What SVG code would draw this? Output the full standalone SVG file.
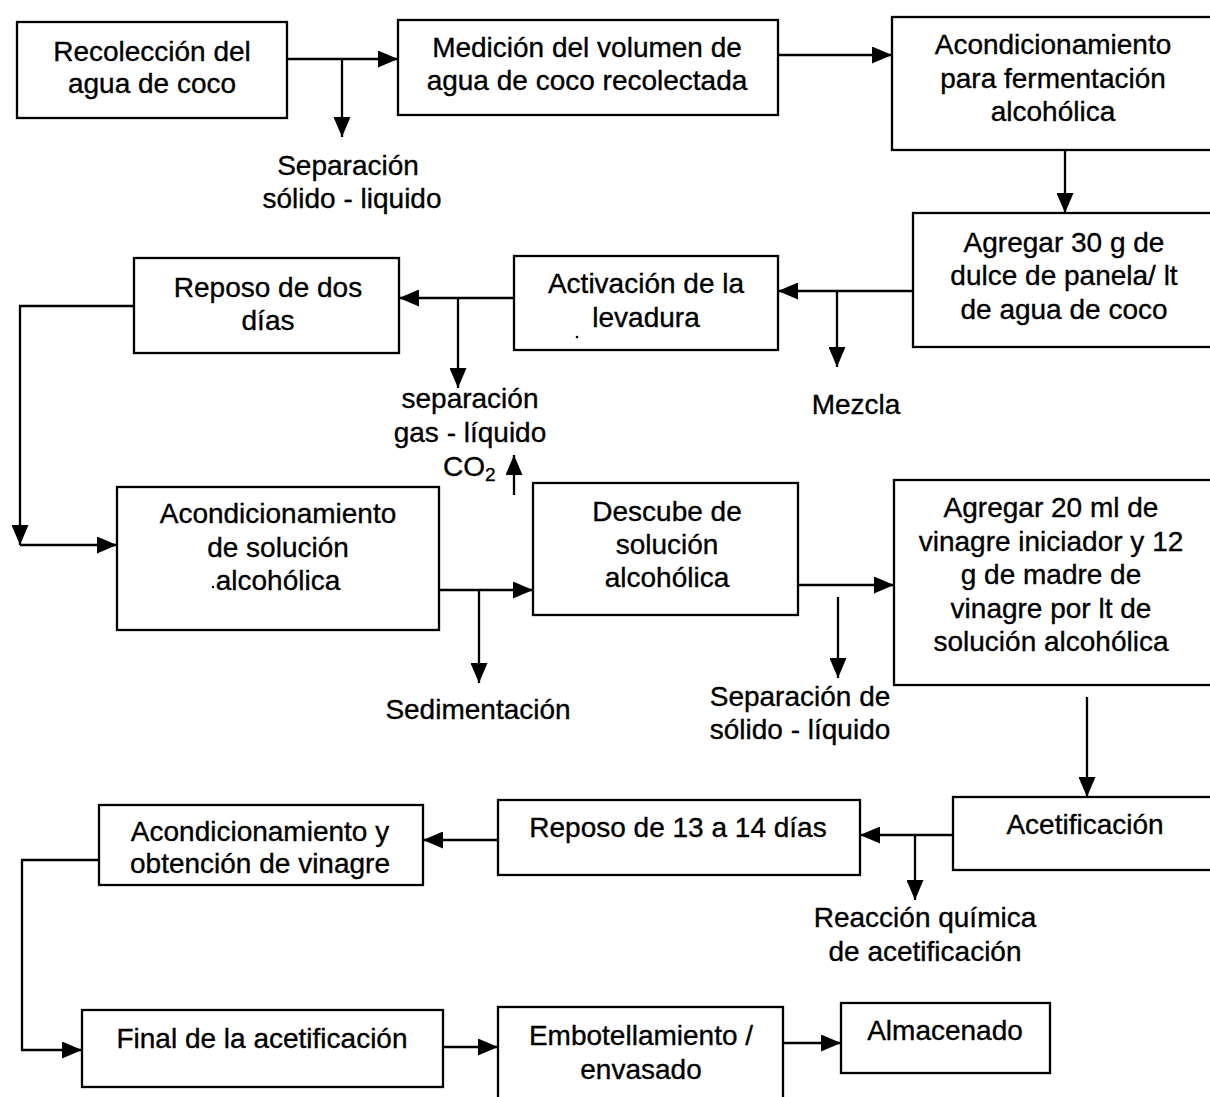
<svg xmlns="http://www.w3.org/2000/svg" width="1210" height="1097" viewBox="0 0 1210 1097">
  <style>
    .box { fill: #ffffff; stroke: #000000; stroke-width: 2.3; }
    .t { font-family: "Liberation Sans", Arial, sans-serif; font-size: 28px; fill: #000000; stroke: #000000; stroke-width: 0.35; text-anchor: middle; }
    .c { fill: none; stroke: #000000; stroke-width: 2.3; }
    .a { marker-end: url(#ah); }
  </style>
  <defs>
    <marker id="ah" viewBox="0 0 20 17" refX="20" refY="8.5" markerWidth="20" markerHeight="17" markerUnits="userSpaceOnUse" orient="auto">
      <path d="M0,0 L20,8.5 L0,17 z" fill="#000000"/>
    </marker>
  </defs>
  <rect width="1210" height="1097" fill="#ffffff"/>

  <!-- connectors -->
  <g id="connectors">
    <path class="c a" d="M287,59 H398"/>
    <path class="c a" d="M342,59 V137"/>
    <path class="c a" d="M778,55 H892"/>
    <path class="c a" d="M1065,150 V213"/>
    <path class="c a" d="M913,291 H778"/>
    <path class="c a" d="M837,291 V367"/>
    <path class="c a" d="M514,298 H399"/>
    <path class="c a" d="M458,298 V388"/>
    <path class="c a" d="M134,306 H20 V545"/>
    <path class="c a" d="M20,545 H117"/>
    <path class="c a" d="M439,590 H533"/>
    <path class="c a" d="M479,590 V683"/>
    <path class="c a" d="M514,495 V455"/>
    <path class="c a" d="M798,585 H894"/>
    <path class="c a" d="M838,597 V678"/>
    <path class="c a" d="M1087,697 V797"/>
    <path class="c a" d="M953,835 H860"/>
    <path class="c a" d="M915,835 V900"/>
    <path class="c a" d="M498,840 H423"/>
    <path class="c a" d="M99,860 H22 V1050 H82"/>
    <path class="c a" d="M443,1047 H498"/>
    <path class="c a" d="M783,1043 H841"/>
  </g>

  <!-- process steps -->
  <g id="recoleccion">
    <rect class="box" x="17" y="22" width="270" height="96"/>
    <text class="t" x="152" y="61">Recolección del</text>
    <text class="t" x="152" y="93">agua de coco</text>
  </g>
  <g id="medicion">
    <rect class="box" x="398" y="20" width="380" height="95"/>
    <text class="t" x="587" y="57">Medición del volumen de</text>
    <text class="t" x="587" y="90">agua de coco recolectada</text>
  </g>
  <g id="acond-fermentacion">
    <rect class="box" x="892" y="17" width="325" height="133"/>
    <text class="t" x="1053" y="54">Acondicionamiento</text>
    <text class="t" x="1053" y="88">para fermentación</text>
    <text class="t" x="1053" y="121">alcohólica</text>
  </g>
  <g id="agregar-panela">
    <rect class="box" x="913" y="213" width="305" height="134"/>
    <text class="t" x="1064" y="252">Agregar 30 g de</text>
    <text class="t" x="1064" y="285">dulce de panela/ lt</text>
    <text class="t" x="1064" y="319">de agua de coco</text>
  </g>
  <g id="activacion">
    <rect class="box" x="514" y="256" width="264" height="94"/>
    <text class="t" x="646" y="293">Activación de la</text>
    <text class="t" x="646" y="327">levadura</text>
    <circle cx="577" cy="337" r="1.3" fill="#000000"/>
  </g>
  <g id="reposo-dos">
    <rect class="box" x="134" y="258" width="265" height="95"/>
    <text class="t" x="268" y="297">Reposo de dos</text>
    <text class="t" x="268" y="330">días</text>
  </g>
  <g id="acond-solucion">
    <rect class="box" x="117" y="487" width="322" height="143"/>
    <text class="t" x="278" y="523">Acondicionamiento</text>
    <text class="t" x="278" y="557">de solución</text>
    <text class="t" x="278" y="590">alcohólica</text>
    <circle cx="213" cy="587" r="1.2" fill="#000000"/>
  </g>
  <g id="descube">
    <rect class="box" x="533" y="483" width="265" height="132"/>
    <text class="t" x="667" y="521">Descube de</text>
    <text class="t" x="667" y="554">solución</text>
    <text class="t" x="667" y="587">alcohólica</text>
  </g>
  <g id="agregar-vinagre">
    <rect class="box" x="894" y="480" width="324" height="205"/>
    <text class="t" x="1051" y="517">Agregar 20 ml de</text>
    <text class="t" x="1051" y="551">vinagre iniciador y 12</text>
    <text class="t" x="1051" y="584">g de madre de</text>
    <text class="t" x="1051" y="618">vinagre por lt de</text>
    <text class="t" x="1051" y="651">solución alcohólica</text>
  </g>
  <g id="acetificacion">
    <rect class="box" x="953" y="797" width="265" height="73"/>
    <text class="t" x="1085" y="834">Acetificación</text>
  </g>
  <g id="reposo-13">
    <rect class="box" x="498" y="800" width="362" height="75"/>
    <text class="t" x="678" y="837">Reposo de 13 a 14 días</text>
  </g>
  <g id="obtencion">
    <rect class="box" x="99" y="805" width="324" height="80"/>
    <text class="t" x="260" y="841">Acondicionamiento y</text>
    <text class="t" x="260" y="873">obtención de vinagre</text>
  </g>
  <g id="final">
    <rect class="box" x="82" y="1010" width="361" height="77"/>
    <text class="t" x="262" y="1048">Final de la acetificación</text>
  </g>
  <g id="embotellamiento">
    <rect class="box" x="498" y="1007" width="285" height="100"/>
    <text class="t" x="641" y="1045">Embotellamiento /</text>
    <text class="t" x="641" y="1079">envasado</text>
  </g>
  <g id="almacenado">
    <rect class="box" x="841" y="1003" width="209" height="70"/>
    <text class="t" x="945" y="1040">Almacenado</text>
  </g>

  <!-- side streams -->
  <g id="sep-solido-1">
    <text class="t" x="348" y="175">Separación</text>
    <text class="t" x="352" y="208">sólido - liquido</text>
  </g>
  <g id="sep-gas">
    <text class="t" x="470" y="408">separación</text>
    <text class="t" x="470" y="442">gas - líquido</text>
    <text class="t" x="443" y="476" style="text-anchor:start">CO<tspan font-size="19" dy="5">2</tspan></text>
  </g>
  <g id="mezcla">
    <text class="t" x="856" y="414">Mezcla</text>
  </g>
  <g id="sedimentacion">
    <text class="t" x="478" y="719">Sedimentación</text>
  </g>
  <g id="sep-solido-2">
    <text class="t" x="800" y="706">Separación de</text>
    <text class="t" x="800" y="739">sólido - líquido</text>
  </g>
  <g id="reaccion">
    <text class="t" x="925" y="927">Reacción química</text>
    <text class="t" x="925" y="961">de acetificación</text>
  </g>
</svg>
